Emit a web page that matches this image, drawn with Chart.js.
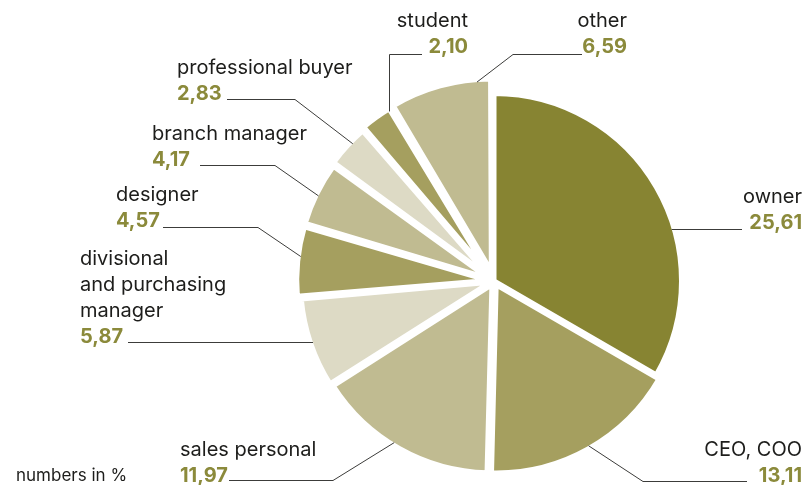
<!DOCTYPE html>
<html>
<head>
<meta charset="utf-8">
<script src="https://cdn.jsdelivr.net/npm/chart.js@4"></script>
<style>
    html, body { margin: 0; padding: 0; background: #ffffff; }
    #wrap { width: 807px; height: 485px; position: relative; }
</style>
</head>
<body>
<div id="wrap"><canvas id="myCanvas"></canvas></div>
<script>
// data, clockwise from 12 o'clock
var categories = [
    ["owner"],
    ["CEO, COO"],
    ["sales personal"],
    ["divisional", "and purchasing", "manager"],
    ["designer"],
    ["branch manager"],
    ["professional buyer"],
    ["student"],
    ["other"]
];
var values = [25.61, 13.11, 11.97, 5.87, 4.57, 4.17, 2.83, 2.10, 6.59];
var unitNote = "numbers in %";

// styling
var sliceColors = ["#878432", "#a59f5f", "#c0bb91", "#dddac5", "#a59f5f", "#c0bb91", "#dddac5", "#a59f5f", "#c0bb91"];
var sliceOffsets = [0, 18, 17, 16, 24, 24, 27, 31, 40];

// where each label sits and how its leader line runs
var callouts = [
    { x: 802, align: "right", y: 229, touch: { y: 229.5, side: "right" }, path: [[742, 229.5]] },
    { x: 802, align: "right", y: 482, touch: { frac: 0.49 }, path: [[643, 481.5], [747, 481.5]] },
    { x: 180, align: "left", y: 482, touch: { frac: 0.54 }, path: [[333, 480.5], [229, 480.5]] },
    { x: 80, align: "left", y: 343, touch: { y: 342.5, side: "left" }, path: [[128, 342.5]] },
    { x: 116, align: "left", y: 227, touch: { frac: 0.57 }, path: [[258, 227.5], [163, 227.5]] },
    { x: 152, align: "left", y: 166, touch: { frac: 0.48 }, path: [[275, 165.5], [200, 165.5]] },
    { x: 177, align: "left", y: 100, touch: { frac: 0.62 }, path: [[295, 99.5], [227, 99.5]] },
    { x: 468, align: "right", y: 53, touch: { x: 389.5 }, path: [[389.5, 54.5], [422, 54.5]] },
    { x: 627, align: "right", y: 53, touch: { frac: 0.86 }, path: [[513, 54.5], [582, 54.5]] }
];

var lineGap = 26;
var textColor = "#1d1d1b";
var valueColor = "#8b8a3b";

function fmt(v) {
    return v.toFixed(2).replace(".", ",");
}

var calloutPlugin = {
    id: "callouts",
    afterDatasetsDraw: function (chart) {
        var ctx = chart.ctx;
        var meta = chart.getDatasetMeta(0);
        ctx.save();
        meta.data.forEach(function (arc, i) {
            var c = callouts[i];
            var p = arc.getProps(["x", "y", "startAngle", "endAngle", "outerRadius", "circumference"], true);
            var o = arc.options;
            var t = (o.offset || 0) / 4;
            var half = (p.startAngle + p.endAngle) / 2;
            var fix = 1 - Math.sin(Math.min(Math.PI, p.circumference));
            var cx = p.x + Math.cos(half) * t;
            var cy = p.y + Math.sin(half) * t;
            var r = p.outerRadius + t * fix - o.borderWidth / 2;
            var a;
            if (c.touch.frac !== undefined) {
                a = p.startAngle + (p.endAngle - p.startAngle) * c.touch.frac;
            } else if (c.touch.y !== undefined) {
                var s = Math.asin((c.touch.y - cy) / r);
                a = c.touch.side === "left" ? Math.PI - s : s;
            } else {
                a = -Math.acos((c.touch.x - cx) / r);
            }
            var px = cx + Math.cos(a) * r;
            var py = cy + Math.sin(a) * r;

            ctx.beginPath();
            ctx.strokeStyle = "#3c3c3a";
            ctx.lineWidth = 1;
            ctx.moveTo(px, py);
            c.path.forEach(function (pt) {
                ctx.lineTo(pt[0], pt[1]);
            });
            ctx.stroke();

            var lines = categories[i];
            ctx.textAlign = c.align;
            ctx.textBaseline = "alphabetic";
            ctx.fillStyle = textColor;
            ctx.font = "400 20px Inter";
            for (var j = 0; j < lines.length; j++) {
                ctx.fillText(lines[j], c.x, c.y - lineGap * (lines.length - j));
            }
            ctx.fillStyle = valueColor;
            ctx.font = "700 20px Inter";
            ctx.fillText(fmt(values[i]), c.x, c.y);
        });

        ctx.textAlign = "left";
        ctx.fillStyle = textColor;
        ctx.font = "400 17px Inter";
        ctx.fillText(unitNote, 16, 481);
        ctx.restore();
    }
};

new Chart(document.getElementById("myCanvas"), {
    type: "pie",
    data: {
        labels: categories,
        datasets: [
            {
                data: values,
                backgroundColor: sliceColors,
                borderColor: "#ffffff",
                borderWidth: 5,
                offset: sliceOffsets,
                clip: false
            }
        ]
    },
    options: {
        responsive: true,
        maintainAspectRatio: false,
        animation: false,
        events: [],
        radius: 187.5,
        layout: { padding: { left: 190, right: 9, top: 80, bottom: 3 } },
        plugins: {
            legend: { display: false },
            tooltip: { enabled: false }
        }
    },
    plugins: [calloutPlugin]
});
</script>
</body>
</html>
